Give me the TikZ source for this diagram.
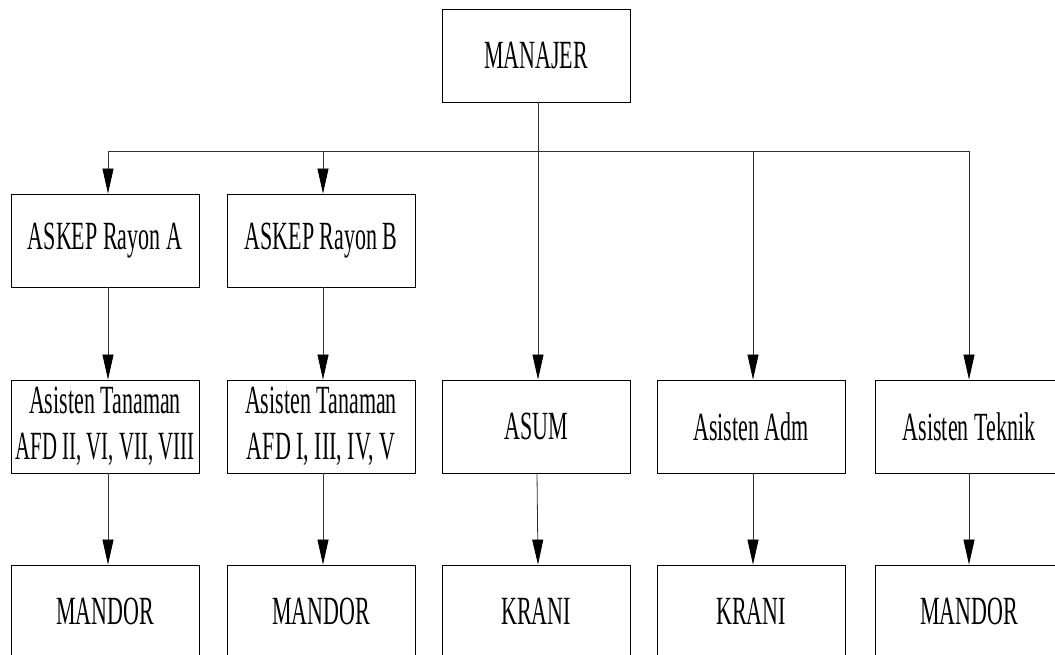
\documentclass[tikz,border=0pt]{standalone}
\usepackage{fontspec}
\setmainfont[FakeStretch=0.55]{Liberation Serif}
\newfontfamily\narrowserif[FakeStretch=0.52]{Liberation Serif}
\usetikzlibrary{arrows.meta}
\begin{document}
\begin{tikzpicture}[x=1pt,y=1pt,
  orgbox/.style={draw=black, line width=0.9pt, minimum width=188pt, minimum height=93pt,
    inner sep=0pt, align=center, font=\fontsize{40}{46}\selectfont},
  conn/.style={draw=black!80, line width=0.8pt},
  arr/.style={conn, -{Triangle[length=25pt,width=11pt,color=black]}}]
\useasboundingbox (0,0) rectangle (1055,-654);
\clip (0,0) rectangle (1055,-654);
\node[orgbox] (m) at (536,-55.5) {MANAJER};
\node[orgbox] (a1) at (105,-240.5) {ASKEP Rayon A};
\node[orgbox] (a2) at (321,-240.5) {ASKEP Rayon B};
\node[orgbox] (b1) at (105,-426.5) {Asisten Tanaman\\{\narrowserif AFD II, VI, VII, VIII}};
\node[orgbox] (b2) at (321,-426.5) {Asisten Tanaman\\AFD I, III, IV, V};
\node[orgbox] (b3) at (536,-426.5) {ASUM};
\node[orgbox] (b4) at (751,-426.5) {Asisten Adm};
\node[orgbox] (b5) at (969,-426.5) {Asisten Teknik};
\node[orgbox] (c1) at (105,-611.5) {MANDOR};
\node[orgbox] (c2) at (321,-611.5) {MANDOR};
\node[orgbox] (c3) at (536,-611.5) {KRANI};
\node[orgbox] (c4) at (751,-611.5) {KRANI};
\node[orgbox] (c5) at (969,-611.5) {MANDOR};
\coordinate (j) at (538,-151);
\coordinate (jl) at (108,-151);
\coordinate (jr) at (969,-151);
\draw[conn] (jl) -- (jr);
\draw[conn] (m.south -| j) -- (j);
\draw[arr] (jl) -- (jl |- a1.north);
\draw[arr] ([xshift=2pt]a2.north |- j) -- ([xshift=2pt]a2.north);
\draw[arr] (j) -- (j |- b3.north);
\draw[arr] ([xshift=2pt]b4.north |- j) -- ([xshift=2pt]b4.north);
\draw[arr] (jr) -- (b5.north);
\draw[arr] ([xshift=3pt]a1.south) -- ([xshift=3pt]b1.north);
\draw[arr] ([xshift=2pt]a2.south) -- ([xshift=2pt]b2.north);
\draw[arr] ([xshift=3pt]b1.south) -- ([xshift=3pt]c1.north);
\draw[arr] ([xshift=2pt]b2.south) -- ([xshift=2pt]c2.north);
\draw[arr] ([xshift=1pt]b3.south) -- ([xshift=2pt]c3.north);
\draw[arr] ([xshift=2pt]b4.south) -- ([xshift=2pt]c4.north);
\draw[arr] (b5.south) -- (c5.north);
\end{tikzpicture}
\end{document}
